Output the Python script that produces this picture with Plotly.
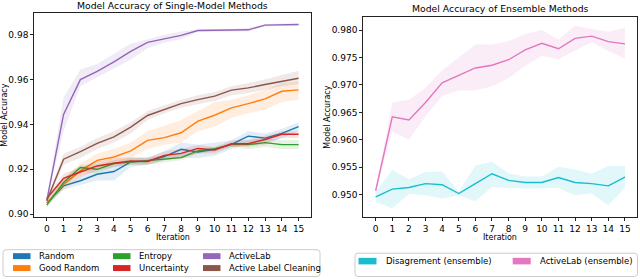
import plotly.graph_objects as go

iterations = list(range(16))

# Single-model methods
random_mean = [0.905, 0.9126, 0.9149, 0.9178, 0.919, 0.9233, 0.9236, 0.9257, 0.9289, 0.9277, 0.9289, 0.9311, 0.9348, 0.9339, 0.936, 0.939]
random_lo = [0.904, 0.911, 0.913, 0.915, 0.915, 0.921, 0.922, 0.924, 0.925, 0.925, 0.926, 0.929, 0.932, 0.932, 0.934, 0.937]
random_hi = [0.906, 0.914, 0.917, 0.920, 0.922, 0.925, 0.925, 0.928, 0.932, 0.931, 0.932, 0.933, 0.937, 0.936, 0.938, 0.941]

good_mean = [0.905, 0.9133, 0.9193, 0.924, 0.9255, 0.9282, 0.9329, 0.9341, 0.9363, 0.9415, 0.9441, 0.9474, 0.9493, 0.9514, 0.9548, 0.9554]
good_lo = [0.904, 0.911, 0.9165, 0.920, 0.922, 0.925, 0.929, 0.931, 0.932, 0.937, 0.939, 0.943, 0.945, 0.9465, 0.950, 0.951]
good_hi = [0.906, 0.916, 0.9225, 0.927, 0.929, 0.932, 0.937, 0.9395, 0.942, 0.946, 0.950, 0.951, 0.953, 0.9555, 0.9585, 0.959]

entropy_mean = [0.904, 0.9141, 0.9208, 0.92, 0.9226, 0.9233, 0.9237, 0.9245, 0.9252, 0.9282, 0.9292, 0.931, 0.931, 0.9319, 0.931, 0.931]
entropy_lo = [0.903, 0.912, 0.919, 0.918, 0.921, 0.922, 0.922, 0.923, 0.924, 0.927, 0.928, 0.930, 0.929, 0.930, 0.929, 0.929]
entropy_hi = [0.905, 0.916, 0.922, 0.922, 0.924, 0.925, 0.9255, 0.926, 0.927, 0.9295, 0.930, 0.932, 0.933, 0.934, 0.933, 0.933]

unc_mean = [0.907, 0.916, 0.9188, 0.9215, 0.9227, 0.9237, 0.9235, 0.9262, 0.9271, 0.9293, 0.9286, 0.9314, 0.9314, 0.9333, 0.9356, 0.9356]
unc_lo = [0.906, 0.914, 0.917, 0.9195, 0.921, 0.922, 0.922, 0.924, 0.925, 0.927, 0.927, 0.930, 0.930, 0.931, 0.934, 0.934]
unc_hi = [0.908, 0.918, 0.921, 0.9235, 0.925, 0.9255, 0.925, 0.928, 0.929, 0.931, 0.930, 0.933, 0.933, 0.935, 0.937, 0.937]

activelab_mean = [0.906, 0.9445, 0.960, 0.9637, 0.9679, 0.9726, 0.9766, 0.9782, 0.9797, 0.9819, 0.9819, 0.982, 0.9822, 0.9843, 0.9845, 0.9846]
activelab_lo = [0.9055, 0.937, 0.957, 0.961, 0.965, 0.969, 0.974, 0.9765, 0.978, 0.9812, 0.9812, 0.9814, 0.9815, 0.9838, 0.984, 0.984]
activelab_hi = [0.9075, 0.952, 0.9645, 0.967, 0.9715, 0.976, 0.978, 0.980, 0.9815, 0.9825, 0.9826, 0.9826, 0.983, 0.9848, 0.985, 0.985]

alc_mean = [0.906, 0.9245, 0.9279, 0.9316, 0.9345, 0.9388, 0.944, 0.9467, 0.9493, 0.9511, 0.9526, 0.9553, 0.9563, 0.9578, 0.9593, 0.9606]
alc_lo = [0.905, 0.922, 0.925, 0.929, 0.932, 0.936, 0.942, 0.945, 0.9475, 0.949, 0.9505, 0.953, 0.954, 0.9555, 0.957, 0.958]
alc_hi = [0.907, 0.927, 0.930, 0.934, 0.937, 0.941, 0.946, 0.9485, 0.951, 0.953, 0.9545, 0.957, 0.9585, 0.960, 0.962, 0.964]

# Ensemble methods
dis_mean = [0.9496, 0.951, 0.9513, 0.952, 0.9518, 0.9502, 0.952, 0.9538, 0.9526, 0.9522, 0.9522, 0.9531, 0.9522, 0.952, 0.9516, 0.9532]
dis_lo = [0.9487, 0.9475, 0.9501, 0.9499, 0.9493, 0.9499, 0.9488, 0.9514, 0.9512, 0.9511, 0.9511, 0.9512, 0.9499, 0.9502, 0.948, 0.9513]
dis_hi = [0.9505, 0.9545, 0.9528, 0.9541, 0.9542, 0.9505, 0.9553, 0.956, 0.9539, 0.9533, 0.9533, 0.9551, 0.9546, 0.9538, 0.9552, 0.9552]

ensal_mean = [0.9507, 0.9642, 0.9636, 0.9668, 0.9704, 0.9718, 0.9731, 0.9736, 0.9746, 0.9764, 0.9776, 0.9766, 0.9785, 0.9789, 0.9779, 0.9775]
ensal_lo = [0.9505, 0.9615, 0.960, 0.9643, 0.968, 0.969, 0.969, 0.9697, 0.9712, 0.9735, 0.9753, 0.9747, 0.9763, 0.9778, 0.9762, 0.9748]
ensal_hi = [0.9509, 0.9668, 0.9673, 0.9695, 0.9727, 0.975, 0.9774, 0.9774, 0.978, 0.9793, 0.980, 0.9783, 0.9808, 0.9802, 0.9797, 0.9805]

left_names = ["Random", "Good Random", "Entropy", "Uncertainty", "ActiveLab", "Active Label Cleaning"]
right_names = ["Disagrement (ensemble)", "ActiveLab (ensemble)"]
x_ticks = [str(i) for i in iterations]
left_yticks = [0.90, 0.92, 0.94, 0.96, 0.98]
right_yticks = [0.950, 0.955, 0.960, 0.965, 0.970, 0.975, 0.980]

left_series = [
    (random_mean, random_lo, random_hi, "#1f77b4"),
    (good_mean, good_lo, good_hi, "#ff7f0e"),
    (entropy_mean, entropy_lo, entropy_hi, "#2ca02c"),
    (unc_mean, unc_lo, unc_hi, "#d62728"),
    (activelab_mean, activelab_lo, activelab_hi, "#9467bd"),
    (alc_mean, alc_lo, alc_hi, "#8c564b"),
]
right_series = [
    (dis_mean, dis_lo, dis_hi, "#17becf"),
    (ensal_mean, ensal_lo, ensal_hi, "#e377c2"),
]


def rgba(hexc, a):
    h = hexc.lstrip("#")
    return "rgba(%d,%d,%d,%.3f)" % (int(h[0:2], 16), int(h[2:4], 16), int(h[4:6], 16), a)


fig = go.Figure()

def add_series(series, xa, ya):
    for mean, lo, hi, col in series:
        fig.add_trace(go.Scatter(x=iterations, y=mean, mode="lines",
                                 line=dict(color=col, width=1.4),
                                 xaxis=xa, yaxis=ya, showlegend=False, hoverinfo="skip"))
        fig.add_trace(go.Scatter(x=iterations + iterations[::-1], y=hi + lo[::-1],
                                 mode="lines", fill="toself", fillcolor=rgba(col, 0.13),
                                 line=dict(width=0, color=rgba(col, 0)),
                                 xaxis=xa, yaxis=ya, showlegend=False, hoverinfo="skip"))

add_series(left_series, "x", "y")
add_series(right_series, "x2", "y2")

W, H = 640, 279
def px(x):
    return x / W
def py(y):
    return 1 - y / H

FONT = "DejaVu Sans"
axis_common = dict(showgrid=False, zeroline=False, showline=True, mirror=True,
                   linecolor="#222222", linewidth=1, ticks="outside", ticklen=3,
                   tickwidth=1, tickcolor="#222222",
                   tickfont=dict(family=FONT, size=9, color="#000000"))

fig.update_layout(
    width=W, height=H, autosize=False,
    margin=dict(l=0, r=0, t=0, b=0),
    paper_bgcolor="white", plot_bgcolor="white",
    showlegend=False,
    xaxis=dict(domain=[px(34.2), px(311.2)], range=[-0.75, 15.75],
               tickvals=iterations, ticktext=x_ticks, anchor="y", **axis_common),
    yaxis=dict(domain=[py(219), py(12.7)], range=[0.89854, 0.98987],
               tickvals=left_yticks, ticktext=["%.2f" % v for v in left_yticks],
               anchor="x", **axis_common),
    xaxis2=dict(domain=[px(363.2), px(637.4)], range=[-0.75, 15.75],
                tickvals=iterations, ticktext=x_ticks, anchor="y2", **axis_common),
    yaxis2=dict(domain=[py(219), py(16.7)], range=[0.945836, 0.98247],
                tickvals=right_yticks, ticktext=["%.3f" % v for v in right_yticks],
                anchor="x2", **axis_common),
)

ann = []
shapes = []
txt = dict(family=FONT, color="#000000")
# titles
ann.append(dict(x=px(172.7), y=py(6), xref="paper", yref="paper", text="Model Accuracy of Single-Model Methods",
                showarrow=False, xanchor="center", yanchor="middle", font=dict(size=9.3, **txt)))
ann.append(dict(x=px(500.3), y=py(9), xref="paper", yref="paper", text="Model Accuracy of Ensemble Methods",
                showarrow=False, xanchor="center", yanchor="middle", font=dict(size=9.3, **txt)))
# axis labels
for cx in (172.7, 500.3):
    ann.append(dict(x=px(cx), y=py(239.5), xref="paper", yref="paper", text="Iteration",
                    showarrow=False, xanchor="center", yanchor="middle", font=dict(size=8, **txt)))
ann.append(dict(x=px(4.5), y=py(116), xref="paper", yref="paper", text="Model Accuracy", textangle=-90,
                showarrow=False, xanchor="center", yanchor="middle", font=dict(size=8, **txt)))
ann.append(dict(x=px(327.5), y=py(118), xref="paper", yref="paper", text="Model Accuracy", textangle=-90,
                showarrow=False, xanchor="center", yanchor="middle", font=dict(size=8, **txt)))

# legends (matplotlib-style boxes)
def rounded_box(x0, y0, x1, y1, r=3):
    X0, X1 = px(x0), px(x1)
    Y0, Y1 = py(y0), py(y1)
    rx, ry = r / W, r / H
    p = (f"M{X0+rx},{Y0} L{X1-rx},{Y0} Q{X1},{Y0} {X1},{Y0-ry} "
         f"L{X1},{Y1+ry} Q{X1},{Y1} {X1-rx},{Y1} L{X0+rx},{Y1} Q{X0},{Y1} {X0},{Y1+ry} "
         f"L{X0},{Y0-ry} Q{X0},{Y0} {X0+rx},{Y0} Z")
    return dict(type="path", xref="paper", yref="paper", path=p,
                line=dict(color="#cccccc", width=1), fillcolor="rgba(255,255,255,0.8)")

shapes.append(rounded_box(3, 251.5, 320, 278.5))
shapes.append(rounded_box(355, 255, 637.5, 278.5))

left_cols = [13, 113, 203]
left_rows = [258, 270]
for i, (name, s) in enumerate(zip(left_names, left_series)):
    col_i, row_i = i // 2, i % 2
    x0 = left_cols[col_i]
    yc = left_rows[row_i]
    shapes.append(dict(type="rect", xref="paper", yref="paper", x0=px(x0), x1=px(x0 + 17.5),
                       y0=py(yc - 3), y1=py(yc + 3), line=dict(width=0), fillcolor=s[3]))
    ann.append(dict(x=px(x0 + 24), y=py(yc), xref="paper", yref="paper", text=name, showarrow=False,
                    xanchor="left", yanchor="middle", font=dict(size=8.5, **txt)))

right_cols = [358.5, 512.7]
for i, (name, s) in enumerate(zip(right_names, right_series)):
    x0 = right_cols[i]
    yc = 263
    shapes.append(dict(type="rect", xref="paper", yref="paper", x0=px(x0), x1=px(x0 + 18),
                       y0=py(yc - 3.3), y1=py(yc + 3.3), line=dict(width=0), fillcolor=s[3]))
    ann.append(dict(x=px(x0 + 25), y=py(yc), xref="paper", yref="paper", text=name, showarrow=False,
                    xanchor="left", yanchor="middle", font=dict(size=8.5, **txt)))

fig.update_layout(annotations=ann, shapes=shapes)
fig.write_html("out.html",
               config={"displayModeBar": False, "staticPlot": True},
               post_script="document.body.style.margin='0';document.body.style.padding='0';"
                           "document.documentElement.style.overflow='hidden';")
